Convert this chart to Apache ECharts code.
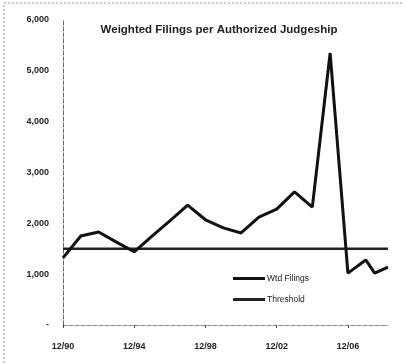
<!DOCTYPE html>
<html><head><meta charset="utf-8">
<script src="https://cdn.jsdelivr.net/npm/echarts@6/dist/echarts.min.js"></script>
<style>html,body{margin:0;padding:0;background:#fff}#c{width:404px;height:364px}</style>
</head><body><div id="c"></div>
<script>
var dates = ['1990-12','1991-12','1992-12','1993-12','1994-12','1995-12','1996-12','1997-12','1998-12','1999-12','2000-12','2001-12','2002-12','2003-12','2004-12','2005-12','2006-12','2007-12','2008-06','2009-03'];
var wtdFilings = [1320,1750,1830,1630,1440,1750,2050,2360,2070,1910,1810,2120,2280,2620,2320,5350,1020,1280,1020,1140];
var thresholdValue = 1500;
var xTickLabels = ['12/90','12/94','12/98','12/02','12/06'];
var yTickLabels = ['-','1,000','2,000','3,000','4,000','5,000','6,000'];
var titleText = 'Weighted Filings per Authorized Judgeship';

function yearsFromStart(d){
  var p = d.split('-');
  return (parseInt(p[0],10) - 1990) + (parseInt(p[1],10) - 12)/12;
}
var xs = dates.map(yearsFromStart);
var xMax = xs[xs.length-1];
var wtdData = xs.map(function(x,i){return [x, wtdFilings[i]];});
var thrData = [[0, thresholdValue],[xMax, thresholdValue]];

var chart = echarts.init(document.getElementById('c'), null, {renderer:'canvas'});
var font = '"Liberation Sans", Arial, sans-serif';
chart.setOption({
  animation:false,
  backgroundColor:'#fff',
  title:{text:titleText,left:214,textAlign:'center',top:19,
    textStyle:{fontFamily:font,fontSize:11.5,fontWeight:'bold',color:'#222'}},
  legend:{orient:'vertical',left:228,top:269,itemWidth:32,itemHeight:3,itemGap:12,
    icon:'rect',
    textStyle:{fontFamily:font,fontSize:8.5,color:'#222',padding:[0,0,0,-3]},
    data:['Wtd Filings','Threshold']},
  grid:{left:63,right:16,top:20,bottom:39},
  xAxis:{type:'value',min:0,max:xMax,interval:4,
    axisLine:{lineStyle:{color:'#888',width:1,type:'dashed'}},
    axisTick:{show:true,length:3,lineStyle:{color:'#444'}},
    splitLine:{show:false},
    axisLabel:{margin:17,fontFamily:font,fontSize:9,fontWeight:'bold',color:'#222',
      formatter:function(v){var i=Math.round(v/4);return (Math.abs(v-i*4)<1e-6 && xTickLabels[i])?xTickLabels[i]:'';},
      showMaxLabel:false}},
  yAxis:{type:'value',min:0,max:6000,interval:1000,
    axisLine:{show:true,lineStyle:{color:'#666',width:1,type:'dashed'}},
    axisTick:{show:false},
    splitLine:{show:false},
    axisLabel:{margin:14,fontFamily:font,fontSize:9,fontWeight:'bold',color:'#222',
      formatter:function(v){return yTickLabels[Math.round(v/1000)];}}},
  graphic:[{type:'rect',shape:{x:4,y:3,width:420,height:380},
    style:{fill:null,stroke:'#999',lineWidth:1,lineDash:[2,2]},silent:true}],
  series:[
    {name:'Wtd Filings',type:'line',data:wtdData,symbol:'none',
      lineStyle:{color:'#111',width:3},itemStyle:{color:'#111'},z:3},
    {name:'Threshold',type:'line',data:thrData,symbol:'none',
      lineStyle:{color:'#222',width:2.5},itemStyle:{color:'#222'},z:2}
  ]
});
</script></body></html>
